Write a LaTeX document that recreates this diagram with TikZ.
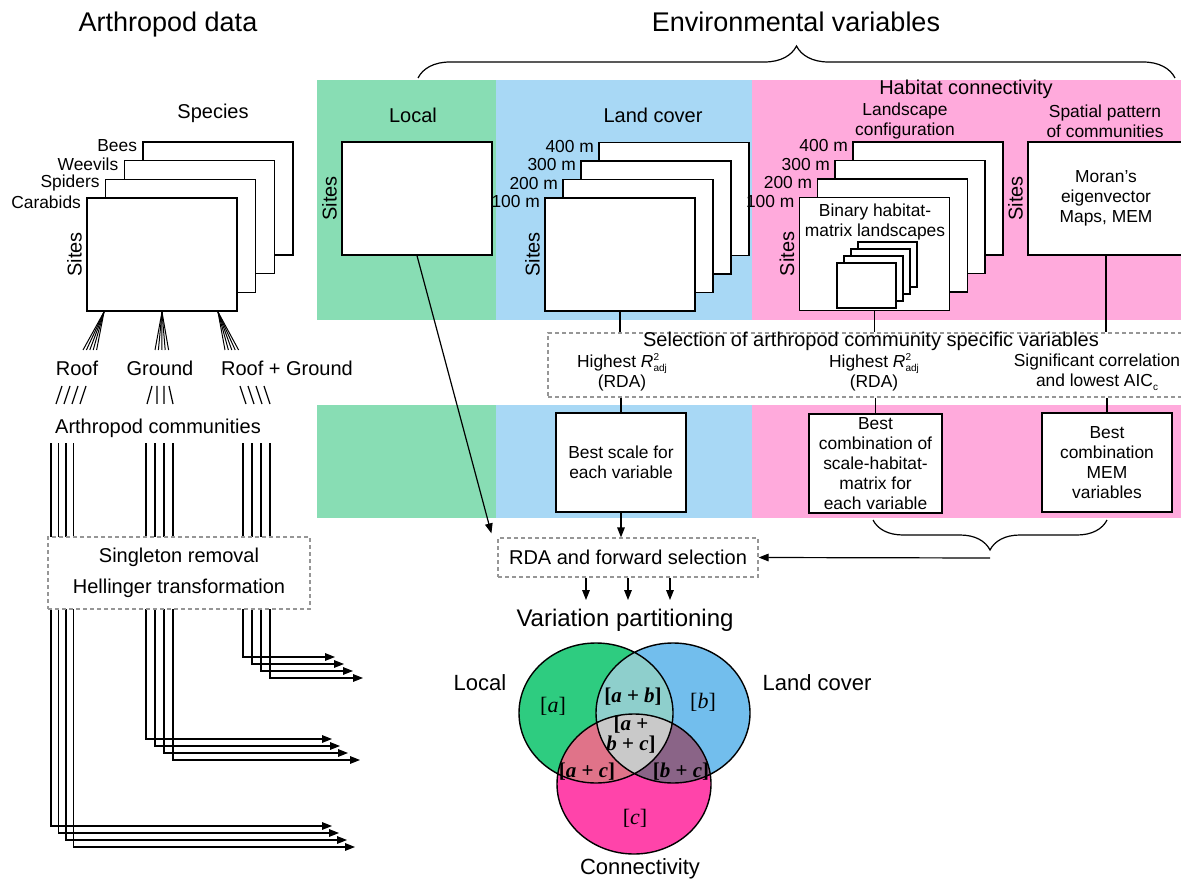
\documentclass[tikz,border=0pt]{standalone}
\usepackage{fontspec}
\setmainfont{Liberation Sans}
\newfontfamily\venfont{Liberation Serif}
\usetikzlibrary{arrows.meta,decorations.pathreplacing}

\definecolor{localbg}{RGB}{136,221,180}
\definecolor{coverbg}{RGB}{168,216,245}
\definecolor{connbg}{RGB}{255,170,220}
\definecolor{localc}{RGB}{46,204,128}
\definecolor{coverc}{RGB}{114,190,237}
\definecolor{connc}{RGB}{255,68,170}
\definecolor{vAB}{RGB}{142,207,204}
\definecolor{vAC}{RGB}{224,115,137}
\definecolor{vBC}{RGB}{138,100,135}
\definecolor{vABC}{RGB}{201,201,201}
\definecolor{dashgray}{RGB}{150,150,150}

\newcommand{\tinyfs}{\fontsize{5}{5}\selectfont}
\newcommand{\radj}{\textit{R}\makebox[0pt][l]{\raisebox{0.8ex}{\tinyfs 2}}\raisebox{-0.45ex}{\tinyfs adj}}

\begin{document}
\begin{tikzpicture}[x=0.5pt,y=-0.5pt,
  sheet/.style={draw, fill=white, line width=0.7pt, inner sep=0pt, minimum width=75pt, minimum height=56.5pt},
  small/.style={font=\fontsize{8.7}{10}\selectfont},
  mid/.style={font=\fontsize{10}{12}\selectfont},
  big/.style={font=\fontsize{13.5}{16}\selectfont},
  scalelbl/.style={small, anchor=east, inner sep=1pt},
  sites/.style={mid, rotate=90, anchor=south, inner sep=2pt},
  dashbox/.style={draw=dashgray, dash pattern=on 2pt off 1.5pt, line width=0.6pt, fill=white},
  conn/.style={line width=0.6pt},
  flow/.style={line width=0.6pt, -{Triangle[length=5pt,width=3.8pt]}},
  vlbl/.style={font=\venfont\fontsize{11}{12}\selectfont},
  vbold/.style={font=\venfont\bfseries\fontsize{10.5}{11}\selectfont, align=center},
]
  \useasboundingbox (0,0) rectangle (1181,881);
  \clip (0,0) rectangle (1181,881);

  % background bands
  \fill[localbg] (317,80) rectangle (496,320);
  \fill[coverbg] (496,80) rectangle (752,320);
  \fill[connbg] (752,80) rectangle (1181,320);
  \fill[localbg] (317,405) rectangle (496,518);
  \fill[coverbg] (496,405) rectangle (752,518);
  \fill[connbg] (752,405) rectangle (1181,518);

  \node[big] (arthT) at (168,25) {Arthropod data};
  \node[big] (envT) at (796,22) {Environmental variables};
  \draw[decorate, decoration={brace, amplitude=16pt}, conn] (418,78) -- (1175,78);

  % arthropod data
  \node[mid] (specT) at (213,113) {Species};
  \foreach \name/\i in {Bees/3, Weevils/2, Spiders/1, Carabids/0} {
    \node[sheet] (sp\i) at ({162+18.7*\i},{254.5-18.7*\i}) {};
    \node[scalelbl] (spl\i) at ([shift={(-3,4.5)}]sp\i.north west) {\name};
  }
  \node[sites] (spS) at (sp0.west) {Sites};

  \foreach \ax/\bx in {104/83, 162/155, 218/225}
    \foreach \k in {0,...,4}
      \draw[line width=0.5pt] (\ax,312) -- ({\bx+3.4*\k},350);

  \node[mid] (roofL) at (77,368) {Roof};
  \node[mid] (groundL) at (160,368) {Ground};
  \node[mid] (bothL) at (287,368) {Roof + Ground};

  \foreach \k in {0,...,3} {
    \draw[conn] ({56+8*\k},404) -- ({62+8*\k},386);
    \draw[conn] ({240+8*\k},386) -- ({246+8*\k},404);
  }
  \draw[conn] (147,404) -- (152,386) (157,404) -- (157,386)
    (164,404) -- (164,386) (173,404) -- (169,386);

  \node[mid] (comm) at (158,428) {Arthropod communities};

  \foreach \x/\y/\t in {243/657/335, 252/664/344, 261/671/353, 270/678/363,
                        146/739/332, 155/746/340, 164/753/348, 173/760/360,
                        51/826/332, 58.5/833/339, 66/840/347, 73.5/847/355}
    \draw[flow] (\x,443) |- (\t,\y);

  \node[dashbox, minimum width=131pt, minimum height=36pt, align=center,
        font=\fontsize{10}{15.5}\selectfont] (hell) at (179,573)
        {Singleton removal\\Hellinger transformation};

  % local
  \node[mid] (localT) at (413,115) {Local};
  \node[sheet] (loc) at (417,198.5) {};
  \node[sites] (locS) at (loc.west) {Sites};

  % land cover
  \node[mid] (coverT) at (653,115) {Land cover};
  \foreach \d/\i in {400/3, 300/2, 200/1, 100/0} {
    \node[sheet] (lc\i) at ({620+18*\i},{254.5-18.5*\i}) {};
    \node[scalelbl] (lcl\i) at ([shift={(-2,4.5)}]lc\i.north west) {\d~m};
  }
  \node[sites] (lcS) at (lc0.west) {Sites};

  % habitat connectivity
  \node[mid] (connT) at (966,89) {Habitat connectivity};
  \node[small, align=center] (landT) at (905,121) {Landscape\\configuration};
  \node[small, align=center] (spatT) at (1105,121) {Spatial pattern\\of communities};
  \foreach \d/\i in {400/3, 300/2, 200/1, 100/0} {
    \node[sheet] (hc\i) at ({874.5+17.8*\i},{254-18.5*\i}) {};
    \node[scalelbl] (hcl\i) at ([shift={(-2,4.5)}]hc\i.north west) {\d~m};
  }
  \node[small, align=center] (binT) at (875,222) {Binary habitat-\\matrix landscapes};
  \foreach \i in {3,2,1,0}
    \node[sheet, minimum width=29.5pt, minimum height=22.5pt] (bm\i) at ({866.5+7*\i},{285.5-7*\i}) {};
  \node[sites] (hcS) at (hc0.west) {Sites};

  \node[sheet, minimum width=78pt, small, align=center] (mem) at (1106,198.5)
        {Moran’s\\eigenvector\\Maps, MEM};
  \node[sites] (memS) at (mem.west) {Sites};

  % selection
  \node[dashbox, minimum width=321pt, minimum height=32pt] (sel) at (869,365) {};
  \node[mid, inner sep=0.5pt] (selT) at (871,341) {Selection of arthropod community specific variables};
  \node[small, align=center, inner sep=0.5pt] (hi1) at (622,372) {Highest \radj\\(RDA)};
  \node[small, align=center, inner sep=0.5pt] (hi2) at (874,372) {Highest \radj\\(RDA)};
  \node[small, align=center, inner sep=0.5pt] (sig) at (1097,372) {Significant correlation\\and lowest AIC\raisebox{-0.45ex}{\tinyfs c}};

  \draw[conn] (lc0.south) -- (lc0.south |- sel.north);
  \draw[conn] (hc0.south) -- (hc0.south |- sel.north);
  \draw[conn] (mem.south) -- (mem.south |- sel.north);

  \node[sheet, minimum width=65pt, minimum height=49.5pt, small, align=center] (best1)
        at (621,462.5) {Best scale for\\each variable};
  \node[sheet, minimum width=66.5pt, minimum height=49.5pt, small, align=center] (best2)
        at (875.5,463.5) {Best\\combination of\\scale-habitat-\\matrix for\\each variable};
  \node[sheet, minimum width=65pt, minimum height=49.5pt, small, align=center] (best3)
        at (1107,462.5) {Best\\combination\\MEM\\variables};

  \draw[conn] (best1.north |- sel.south) -- (best1.north);
  \draw[conn] (best2.north |- sel.south) -- (best2.north);
  \draw[conn] (best3.north |- sel.south) -- (best3.north);

  % forward selection
  \node[dashbox, mid, minimum width=130pt, minimum height=19.5pt] (rda) at (628,557.5)
        {RDA and forward selection};
  \draw[flow] (best1.south) -- (best1.south |- rda.north);
  \draw[flow] (loc.south) -- ([xshift=-3pt,yshift=2pt]rda.north west);
  \draw[decorate, decoration={brace, amplitude=15pt}, conn] (1107,520) -- (873,520);
  \coordinate (bt) at (990,558);
  \draw[flow] (bt) -- (rda.east);

  \foreach \x [count=\n] in {586,628,670} {
    \coordinate (vp\n) at (\x,600);
    \draw[flow] (rda.south -| vp\n) -- (vp\n);
  }
  \node[font=\fontsize{12}{14}\selectfont] (vpT) at (625,620) {Variation partitioning};

  % venn
  \coordinate (cA) at (596,713);
  \coordinate (cB) at (673,713);
  \coordinate (cC) at (634,784);
  \tikzset{venn/.style={x radius=77, y radius=70}}
  \fill[localc] (cA) ellipse[venn];
  \fill[coverc] (cB) ellipse[venn];
  \fill[connc] (cC) ellipse[venn];
  \begin{scope}
    \clip (cA) ellipse[venn];
    \fill[vAB] (cB) ellipse[venn];
    \fill[vAC] (cC) ellipse[venn];
  \end{scope}
  \begin{scope}
    \clip (cB) ellipse[venn];
    \fill[vBC] (cC) ellipse[venn];
  \end{scope}
  \begin{scope}
    \clip (cA) ellipse[venn];
    \clip (cB) ellipse[venn];
    \fill[vABC] (cC) ellipse[venn];
  \end{scope}
  \draw[line width=0.7pt] (cA) ellipse[venn] (cB) ellipse[venn] (cC) ellipse[venn];

  \node[font=\fontsize{11}{13}\selectfont] (vLoc) at (480,683) {Local};
  \node[font=\fontsize{11}{13}\selectfont] (vCov) at (817,683) {Land cover};
  \node[font=\fontsize{11}{13}\selectfont] (vCon) at (640,869) {Connectivity};
  \node[vlbl] (va) at (553,706) {[\textit{a}]};
  \node[vlbl] (vb) at (703,702) {[\textit{b}]};
  \node[vlbl] (vc) at (635,818) {[\textit{c}]};
  \node[vbold] (vab) at (633,697) {[\textit{a} + \textit{b}]};
  \node[vbold, font=\venfont\bfseries\fontsize{10.5}{10}\selectfont] (vabc) at (631,735) {[\textit{a} +\\\textit{b} + \textit{c}]};
  \node[vbold] (vac) at (587,772) {[\textit{a} + \textit{c}]};
  \node[vbold] (vbc) at (681,772) {[\textit{b} + \textit{c}]};
\end{tikzpicture}
\end{document}
